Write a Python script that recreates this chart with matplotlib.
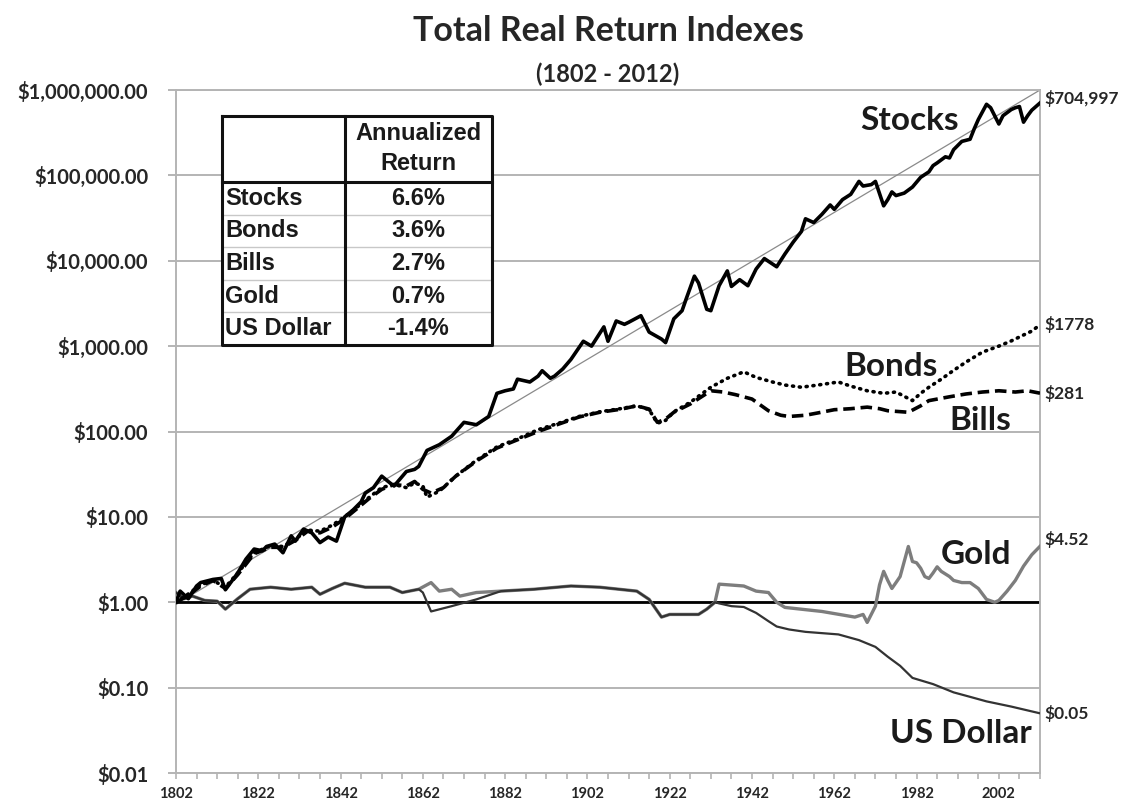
import matplotlib
matplotlib.use("Agg")
import matplotlib.pyplot as plt
from matplotlib.ticker import FixedLocator, FuncFormatter, NullLocator
from matplotlib.lines import Line2D
from matplotlib.patches import Rectangle

# ---- data ----
stock_years = [1802, 1803, 1805, 1807, 1808, 1811, 1813, 1814, 1817, 1819, 1821, 1823, 1824,
               1826, 1828, 1830, 1831, 1833, 1835, 1837, 1839, 1841, 1843, 1845, 1847, 1848,
               1850, 1852, 1854, 1855, 1858, 1860, 1861, 1863, 1866, 1869, 1872, 1875, 1878,
               1880, 1882, 1884, 1885, 1888, 1890, 1891, 1893, 1894, 1896, 1898, 1901, 1903,
               1906, 1907, 1909, 1911, 1912, 1915, 1917, 1920, 1921, 1923, 1925, 1926, 1928,
               1929, 1931, 1932, 1934, 1936, 1937, 1939, 1941, 1943, 1945, 1948, 1950, 1952,
               1954, 1955, 1957, 1959, 1961, 1962, 1964, 1966, 1968, 1969, 1971, 1972, 1974,
               1975, 1976, 1977, 1979, 1981, 1983, 1985, 1986, 1987, 1989, 1990, 1991, 1993,
               1995, 1996, 1997, 1999, 2000, 2002, 2003, 2005, 2006, 2007, 2008, 2009, 2010,
               2012]
stocks = [1.0, 1.35, 1.1, 1.55, 1.7, 1.85, 1.9, 1.4, 2.2, 3.2, 4.2, 4.0, 4.5,
          4.8, 3.8, 6.0, 5.2, 7.2, 6.5, 5.0, 5.8, 5.2, 10.0, 12, 15, 19,
          22, 30, 25, 23, 34, 36, 39, 60, 70, 88, 128, 120, 150,
          280, 300, 315, 410, 380, 445, 515, 420, 445, 540, 700, 1140, 1000,
          1680, 1140, 1970, 1800, 1900, 2270, 1460, 1210, 1100, 2090, 2600, 3570, 6600,
          5500, 2700, 2600, 5100, 7600, 5000, 6000, 5100, 8000, 10600, 8500, 12000, 16500,
          22000, 31000, 28000, 35000, 45000, 40000, 52000, 60000, 85000, 75000, 78000, 85000, 44000,
          52000, 64000, 58000, 62000, 73000, 95000, 110000, 130000, 140000, 165000, 160000, 200000, 250000,
          265000, 350000, 450000, 680000, 620000, 400000, 500000, 590000, 620000, 640000, 420000, 500000, 580000,
          704997]

bond_years = [1802, 1805, 1808, 1811, 1814, 1817, 1821, 1825, 1828, 1831, 1834, 1837, 1840,
              1843, 1846, 1849, 1852, 1855, 1858, 1860, 1862, 1863, 1866, 1870, 1875, 1880,
              1885, 1890, 1895, 1900, 1905, 1910, 1914, 1917, 1919, 1921, 1923, 1927, 1932,
              1936, 1940, 1943, 1947, 1950, 1954, 1958, 1963, 1966, 1970, 1974, 1977, 1981,
              1983, 1985, 1988, 1991, 1994, 1998, 2002, 2005, 2008, 2010, 2012]
bonds = [1.0, 1.25, 1.6, 1.8, 1.5, 2.2, 3.8, 4.6, 4.5, 5.5, 7.0, 6.8, 8.0,
         10.0, 13, 17, 22, 24, 22, 25, 23, 17, 20, 30, 46, 66,
         82, 105, 125, 150, 170, 185, 200, 180, 125, 135, 170, 220, 330,
         420, 500, 430, 380, 350, 330, 350, 380, 340, 300, 280, 290, 230,
         280, 330, 410, 520, 650, 850, 1000, 1150, 1350, 1500, 1778]

bill_years = [1802, 1805, 1808, 1811, 1814, 1817, 1821, 1825, 1828, 1831, 1834, 1837, 1840,
              1843, 1846, 1849, 1852, 1855, 1858, 1860, 1862, 1864, 1867, 1870, 1875, 1880,
              1885, 1890, 1895, 1900, 1905, 1910, 1914, 1917, 1919, 1921, 1923, 1927, 1932,
              1935, 1938, 1942, 1946, 1949, 1951, 1955, 1958, 1962, 1966, 1970, 1973, 1975,
              1980, 1983, 1985, 1990, 1994, 1998, 2002, 2006, 2009, 2012]
bills = [1.0, 1.2, 1.55, 1.8, 1.45, 2.1, 3.7, 4.4, 4.4, 5.3, 6.8, 6.5, 7.6,
         9.5, 12.5, 16.5, 21, 24, 23, 26, 21, 19, 22, 30, 45, 64,
         80, 100, 122, 148, 168, 182, 200, 183, 128, 140, 168, 210, 300,
         290, 270, 240, 175, 155, 150, 155, 165, 180, 185, 193, 185, 175,
         168, 200, 230, 255, 275, 290, 300, 290, 300, 281]

gold_years = [1802, 1804, 1806, 1809, 1812, 1814, 1817, 1820, 1825, 1830, 1835, 1837, 1840,
              1843, 1848, 1854, 1857, 1861, 1864, 1866, 1869, 1871, 1875, 1881, 1889, 1898,
              1905, 1914, 1917, 1920, 1922, 1929, 1931, 1933, 1934, 1940, 1943, 1946, 1948,
              1950, 1959, 1967, 1969, 1970, 1972, 1973, 1974, 1975, 1976, 1977, 1978, 1979,
              1980, 1981, 1982, 1983, 1984, 1985, 1986, 1987, 1988, 1990, 1991, 1993, 1995,
              1997, 1999, 2001, 2002, 2004, 2006, 2008, 2010, 2012]
gold = [1.3, 1.1, 1.18, 1.05, 1.03, 0.83, 1.1, 1.42, 1.5, 1.42, 1.5, 1.24, 1.45,
        1.67, 1.5, 1.5, 1.3, 1.42, 1.7, 1.35, 1.42, 1.18, 1.3, 1.35, 1.42, 1.55,
        1.5, 1.35, 1.08, 0.67, 0.72, 0.72, 0.83, 1.0, 1.63, 1.55, 1.35, 1.3, 1.0,
        0.87, 0.78, 0.67, 0.72, 0.58, 0.9, 1.6, 2.3, 1.8, 1.45, 1.7, 2.0, 3.0,
        4.5, 3.0, 2.9, 2.5, 2.0, 1.9, 2.2, 2.6, 2.3, 2.0, 1.8, 1.7, 1.7,
        1.45, 1.08, 1.0, 1.05, 1.35, 1.8, 2.65, 3.6, 4.52]

dollar_years = [1802, 1804, 1806, 1809, 1812, 1814, 1817, 1820, 1825, 1830, 1835, 1837, 1840,
                1843, 1848, 1854, 1857, 1861, 1862, 1864, 1869, 1875, 1881, 1889, 1898, 1905,
                1914, 1917, 1920, 1922, 1929, 1931, 1933, 1934, 1937, 1940, 1943, 1946, 1948,
                1951, 1955, 1963, 1968, 1972, 1975, 1978, 1981, 1986, 1991, 1995, 1999, 2005,
                2012]
dollar = [1.3, 1.1, 1.18, 1.05, 1.03, 0.83, 1.1, 1.42, 1.5, 1.42, 1.5, 1.24, 1.45,
          1.67, 1.5, 1.5, 1.3, 1.42, 1.3, 0.78, 0.9, 1.08, 1.35, 1.42, 1.55, 1.5,
          1.35, 1.08, 0.67, 0.72, 0.72, 0.83, 1.0, 0.97, 0.9, 0.88, 0.75, 0.6, 0.52,
          0.48, 0.45, 0.42, 0.36, 0.3, 0.23, 0.18, 0.13, 0.11, 0.088, 0.078, 0.069, 0.06,
          0.05]

trend_years = [1802, 2012]
trend = [0.95, 1.0e6]

table_assets = ["Stocks", "Bonds", "Bills", "Gold", "US Dollar"]
table_returns = ["6.6%", "3.6%", "2.7%", "0.7%", "-1.4%"]

end_labels = ["$704,997", "$1778", "$281", "$4.52", "$0.05"]
end_values = [704997, 1778, 281, 4.52, 0.05]

y_ticks = [0.01, 0.1, 1, 10, 100, 1000, 10000, 100000, 1000000]
x_labels = list(range(1802, 2003, 20))

# ---- figure ----
W, H = 1143, 805
FONT = "Lato"
fig = plt.figure(figsize=(W / 100, H / 100), dpi=100)
fig.patch.set_facecolor("white")

L, R, T, B = 176, 1040, 90, 773
ax = fig.add_axes([L / W, 1 - B / H, (R - L) / W, (B - T) / H])
ax.set_yscale("log")
ax.set_ylim(0.01, 1e6)
ax.set_xlim(1802, 2012)

grid_col = "#b4b4b4"
ax.yaxis.set_major_locator(FixedLocator(y_ticks))
ax.yaxis.set_minor_locator(NullLocator())
ax.yaxis.set_major_formatter(FuncFormatter(lambda v, p: "${:,.2f}".format(v)))
ax.grid(axis="y", color=grid_col, lw=1.4, zorder=0)
ax.tick_params(axis="y", which="major", direction="out", length=6, width=1.4,
               color=grid_col, pad=14, labelsize=14.5)

ax.xaxis.set_major_locator(FixedLocator(x_labels))
ax.xaxis.set_minor_locator(FixedLocator(list(range(1802, 2013, 5))))
ax.tick_params(axis="x", which="both", direction="out", length=4, width=1.2,
               color=grid_col, pad=6, labelsize=10.5)
for lab in ax.get_xticklabels() + ax.get_yticklabels():
    lab.set_fontfamily(FONT)
    lab.set_fontweight("bold")
    lab.set_color("#262626")

for side in ["left", "right", "top", "bottom"]:
    ax.spines[side].set_color(grid_col)
    ax.spines[side].set_linewidth(1.4)

# ---- series ----
ax.plot(trend_years, trend, color="#8a8a8a", lw=0.9, zorder=2)
ax.axhline(1, color="black", lw=2.0, zorder=2)
ax.plot(gold_years, gold, color="#7d7d7d", lw=2.4, zorder=3)
ax.plot(dollar_years, dollar, color="#333333", lw=1.6, zorder=3)
ax.plot(bill_years, bills, color="black", lw=2.6, ls=(0, (3.2, 1.6)), zorder=4)
ax.plot(bond_years, bonds, color="black", lw=2.6, ls=(0, (0.3, 1.6)),
        dash_capstyle="round", zorder=4)
ax.plot(stock_years, stocks, color="black", lw=2.6, zorder=5)

# end values on the right
label_offsets = [3, 0, 0, 5, 0]
for txt, v, dy in zip(end_labels, end_values, label_offsets):
    ax.annotate(txt, xy=(2012, v), xytext=(3, dy), textcoords="offset points",
                ha="left", va="center", fontsize=12.5, fontweight="bold",
                family=FONT, color="#262626", annotation_clip=False)

# series names
name_kw = dict(fontsize=24, fontweight="bold", family=FONT, color="#1a1a1a",
               ha="center", va="center", zorder=6)
ax.text(1980.4, 4.4e5, "Stocks", **name_kw)
ax.text(1975.8, 570, "Bonds", **name_kw)
ax.text(1997.4, 136, "Bills", **name_kw)
ax.text(1996.5, 3.58, "Gold", **name_kw)
ax.text(1992.8, 0.0294, "US Dollar", **name_kw)

# ---- titles ----
cx = (L + R) / 2 / W
fig.text(cx, 1 - 31 / H, "Total Real Return Indexes", ha="center", va="center",
         fontsize=24.5, fontweight="bold", family=FONT, color="#262626")
fig.text(cx, 1 - 74 / H, "(1802 - 2012)", ha="center", va="center",
         fontsize=17, fontweight="bold", family=FONT, color="#262626")

# ---- return table (pixel layout) ----
def fx(x):
    return x / W


def fy(y):
    return 1 - y / H


tx0, tx1, tx2 = 222, 345, 492
ty0, tyh, ty1 = 116, 182, 345
row_h = (ty1 - tyh) / len(table_assets)

fig.add_artist(Rectangle((fx(tx0), fy(ty1)), fx(tx2) - fx(tx0), fy(ty0) - fy(ty1),
                         transform=fig.transFigure, facecolor="white",
                         edgecolor="none", zorder=7))
for i in range(1, len(table_assets)):
    yy = tyh + i * row_h
    fig.add_artist(Line2D([fx(tx0), fx(tx2)], [fy(yy), fy(yy)], transform=fig.transFigure,
                          color="#c8c8c8", lw=1.0, zorder=8))
thick = dict(transform=fig.transFigure, color="#111111", lw=2.2, zorder=9,
             solid_capstyle="projecting")
fig.add_artist(Line2D([fx(tx0), fx(tx2), fx(tx2), fx(tx0), fx(tx0)],
                      [fy(ty0), fy(ty0), fy(ty1), fy(ty1), fy(ty0)], **thick))
fig.add_artist(Line2D([fx(tx1), fx(tx1)], [fy(ty0), fy(ty1)], **thick))
fig.add_artist(Line2D([fx(tx0), fx(tx2)], [fy(tyh), fy(tyh)], **thick))

tab_kw = dict(family="Liberation Sans", fontweight="bold", fontsize=17,
              color="#1a1a1a", va="center", zorder=10)
colc = (tx1 + tx2) / 2
fig.text(fx(colc), fy(134), "Annualized", ha="center", **tab_kw)
fig.text(fx(colc), fy(164), "Return", ha="center", **tab_kw)
for i, (a, r) in enumerate(zip(table_assets, table_returns)):
    yy = tyh + (i + 0.5) * row_h
    fig.text(fx(tx0 + 3), fy(yy), a, ha="left", **tab_kw)
    fig.text(fx(colc), fy(yy), r, ha="center", **tab_kw)

fig.savefig("out.png", dpi=100, facecolor="white")
